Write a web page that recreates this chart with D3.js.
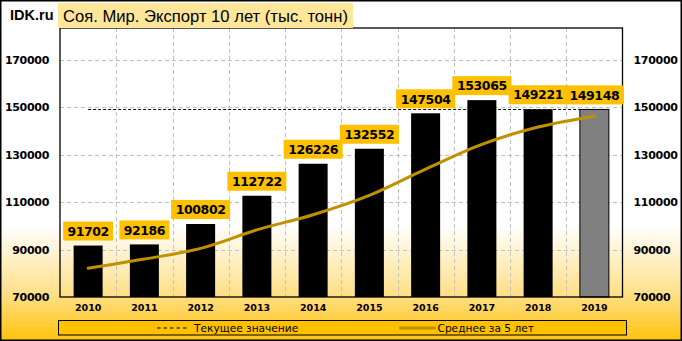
<!DOCTYPE html>
<html><head><meta charset="utf-8">
<script src="https://cdn.jsdelivr.net/npm/d3@7"></script>
<style>body{margin:0;padding:0;background:#fff}svg{display:block}</style>
</head><body>
<svg id="c" width="682" height="341"></svg>
<script>
const years = ["2010","2011","2012","2013","2014","2015","2016","2017","2018","2019"];
const exportValues = [91702, 92186, 100802, 112722, 126226, 132552, 147504, 153065, 149221, 149148];
const avg5Values = [82100, 86000, 90500, 98300, 104728, 112898, 123961, 134414, 141714, 146298];
const currentValue = 149148;
const yTicks = [70000, 90000, 110000, 130000, 150000, 170000];
const titleText = "Соя. Мир. Экспорт 10 лет (тыс. тонн)";
const legendLabels = ["Текущее значение", "Среднее за 5 лет"];

const svg = d3.select("#c");
const W = 682, H = 341;
const defs = svg.append("defs");
const grad = defs.append("linearGradient").attr("id","bg").attr("x1",0).attr("y1",0).attr("x2",0).attr("y2",1);
grad.append("stop").attr("offset","0.66").attr("stop-color","#ffffff");
grad.append("stop").attr("offset","0.86").attr("stop-color","#ffe08a");
grad.append("stop").attr("offset","1").attr("stop-color","#ffc20a");
svg.append("rect").attr("x",0).attr("y",0).attr("width",W).attr("height",H).attr("fill","url(#bg)");
svg.append("rect").attr("x",0.75).attr("y",0.75).attr("width",W-1.5).attr("height",H-1.5)
  .attr("fill","none").attr("stroke","#000").attr("stroke-width",1.5);

const L = 60, R = 622.5, T = 28, B = 297;
const x = d3.scaleBand().domain(years).range([L, R]).paddingInner(0).paddingOuter(0);
const y = d3.scaleLinear().domain([70000, 183500]).range([B, T]);

// gridlines
const g = svg.append("g");
g.selectAll(".hg").data(yTicks.filter(d=>d>70000)).join("line")
  .attr("x1",L).attr("x2",R).attr("y1",d=>Math.round(y(d))+0.5).attr("y2",d=>Math.round(y(d))+0.5)
  .attr("stroke","#c0c0c0").attr("stroke-dasharray","4,3");
g.selectAll(".vg").data(years.slice(1)).join("line")
  .attr("x1",d=>Math.round(x(d))+0.5).attr("x2",d=>Math.round(x(d))+0.5).attr("y1",T).attr("y2",B)
  .attr("stroke","#c0c0c0").attr("stroke-dasharray","4,3");

// current value dashed line
svg.append("line").attr("x1",x(years[0])+x.bandwidth()/2).attr("x2",x(years[years.length-1])+x.bandwidth()/2)
  .attr("y1",Math.round(y(currentValue))+0.5).attr("y2",Math.round(y(currentValue))+0.5)
  .attr("stroke","#000").attr("stroke-width",1).attr("stroke-dasharray","3,2");

// bars
const bw = 29;
svg.selectAll(".bar").data(years).join("rect")
  .attr("x",(d)=>x(d)+x.bandwidth()/2-bw/2)
  .attr("y",(d,i)=>y(exportValues[i]))
  .attr("width",bw)
  .attr("height",(d,i)=>B-y(exportValues[i]))
  .attr("fill",(d,i)=>i===years.length-1?"#808080":"#000")
  .attr("stroke","#000").attr("stroke-width",(d,i)=>i===years.length-1?1:0);

// 5-year average line
const line = d3.line().x((d,i)=>x(years[i])+x.bandwidth()/2).y(d=>y(d)).curve(d3.curveMonotoneX);
svg.append("path").datum(avg5Values).attr("d",line).attr("fill","none")
  .attr("stroke","#bf9000").attr("stroke-width",3).attr("stroke-linecap","round");

// plot border
svg.append("rect").attr("x",L).attr("y",T).attr("width",R-L).attr("height",B-T)
  .attr("fill","none").attr("stroke","#000").attr("stroke-width",1.3);

// data labels
const lbl = svg.append("g");
years.forEach((yr,i)=>{
  const cx = x(yr)+x.bandwidth()/2;
  const top = y(exportValues[i]);
  const t = String(exportValues[i]);
  const w = t.length===5?50:59;
  const h = 19;
  const by = top-5-h;
  lbl.append("rect").attr("x",cx-w/2).attr("y",by).attr("width",w).attr("height",h).attr("fill","#ffc000");
  lbl.append("text").attr("x",cx).attr("y",by+h/2+4.7).attr("text-anchor","middle")
    .attr("font-family","DejaVu Sans").attr("font-weight","bold").attr("font-size","12.5px")
    .attr("letter-spacing","-0.4").attr("fill","#000").text(t);
});

// y axes
const leftAx = svg.append("g").attr("transform",`translate(${L},0)`)
  .call(d3.axisLeft(y).tickValues(yTicks).tickFormat(d=>String(d)).tickSize(0).tickPadding(11));
leftAx.select(".domain").remove();
leftAx.selectAll("text").attr("font-family","DejaVu Sans").attr("font-weight","bold").attr("font-size","11px").attr("fill","#000").attr("letter-spacing","-0.3");
const rightAx = svg.append("g").attr("transform",`translate(${R},0)`)
  .call(d3.axisRight(y).tickValues(yTicks).tickFormat(d=>String(d)).tickSize(0).tickPadding(11));
rightAx.select(".domain").remove();
rightAx.selectAll("text").attr("font-family","DejaVu Sans").attr("font-weight","bold").attr("font-size","11px").attr("fill","#000").attr("letter-spacing","-0.3");

// x axis
const xAx = svg.append("g").attr("transform",`translate(0,${B})`)
  .call(d3.axisBottom(x).tickSize(0).tickPadding(7));
xAx.select(".domain").remove();
xAx.selectAll("text").attr("font-family","DejaVu Sans").attr("font-weight","bold").attr("font-size","9.5px").attr("fill","#000");

// title
svg.append("rect").attr("x",58).attr("y",3).attr("width",295).attr("height",25).attr("fill","#ffe699");
svg.append("text").attr("x",63).attr("y",22).attr("font-family","Liberation Sans").attr("font-size","17px")
  .attr("fill","#000").attr("textLength",285).attr("lengthAdjust","spacingAndGlyphs").text(titleText);
svg.append("text").attr("x",10).attr("y",20).attr("font-family","Liberation Sans").attr("font-weight","bold")
  .attr("font-size","14.5px").attr("fill","#000").text("IDK.ru");

// legend
svg.append("rect").attr("x",58.5).attr("y",320.5).attr("width",568).attr("height",14.5)
  .attr("fill","#ffc000").attr("stroke","#000").attr("stroke-width",1);
svg.append("line").attr("x1",157).attr("x2",189).attr("y1",328).attr("y2",328)
  .attr("stroke","#000").attr("stroke-width",1).attr("stroke-dasharray","3.5,3");
svg.append("text").attr("x",194).attr("y",331.8).attr("font-family","DejaVu Sans").attr("font-size","10.6px")
  .attr("fill","#000").text(legendLabels[0]);
svg.append("line").attr("x1",399).attr("x2",436).attr("y1",328).attr("y2",328)
  .attr("stroke","#bf9000").attr("stroke-width",3);
svg.append("text").attr("x",437.5).attr("y",331.8).attr("font-family","DejaVu Sans").attr("font-size","10.6px")
  .attr("fill","#000").text(legendLabels[1]);
</script>
</body></html>
